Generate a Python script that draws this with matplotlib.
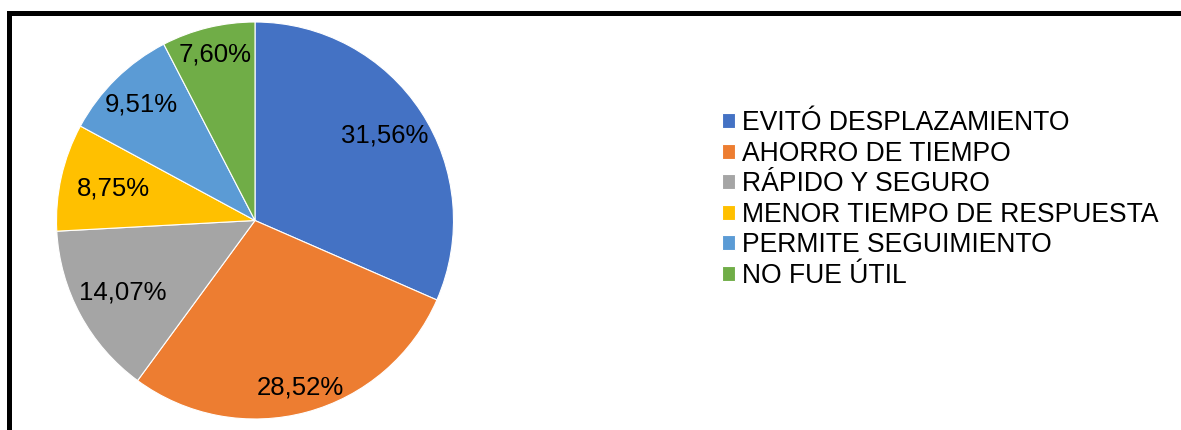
import numpy as np
import matplotlib.pyplot as plt
from matplotlib.patches import Rectangle

plt.rcParams['font.family'] = ['Liberation Sans', 'DejaVu Sans']

categorias = ["EVITÓ DESPLAZAMIENTO", "AHORRO DE TIEMPO", "RÁPIDO Y SEGURO",
              "MENOR TIEMPO DE RESPUESTA", "PERMITE SEGUIMIENTO", "NO FUE ÚTIL"]
porcentajes = [31.56, 28.52, 14.07, 8.75, 9.51, 7.60]
colores = ["#4472C4", "#ED7D31", "#A5A5A5", "#FFC000", "#5B9BD5", "#70AD47"]
# distancia radial de cada etiqueta (fraccion del radio)
dist_etiqueta = [0.78, 0.87, 0.76, 0.73, 0.82, 0.86]

W, H = 1181, 430
fig = plt.figure(figsize=(W / 100, H / 100), dpi=100)

cx, cy, r = 255, 220.5, 198.5
ax = fig.add_axes([(cx - r) / W, (H - cy - r) / H, 2 * r / W, 2 * r / H])

wedges, _ = ax.pie(porcentajes, colors=colores, startangle=90, counterclock=False,
                   radius=1, wedgeprops=dict(edgecolor="white", linewidth=0.8))
ax.set_xlim(-1, 1)
ax.set_ylim(-1, 1)
ax.set_aspect("equal")
ax.axis("off")

for w, p, d in zip(wedges, porcentajes, dist_etiqueta):
    ang = np.deg2rad((w.theta1 + w.theta2) / 2)
    texto = f"{p:.2f}%".replace(".", ",")
    ax.text(d * np.cos(ang), d * np.sin(ang), texto, ha="center", va="center",
            fontsize=18.5, color="black")

leg = fig.legend(wedges, categorias, loc="upper left",
                 bbox_to_anchor=(722 / W, (H - 110) / H), frameon=False,
                 fontsize=19.1, handlelength=0.5, handleheight=0.5,
                 handletextpad=0.27, labelspacing=0.17, borderpad=0,
                 borderaxespad=0)

# marco negro del grafico
fig.patches.append(Rectangle((9.5 / W, -0.2), 2, (H - 12.5) / H + 0.2,
                             transform=fig.transFigure, fill=False,
                             edgecolor="black", linewidth=3.6))

fig.savefig("out.png", dpi=100)
